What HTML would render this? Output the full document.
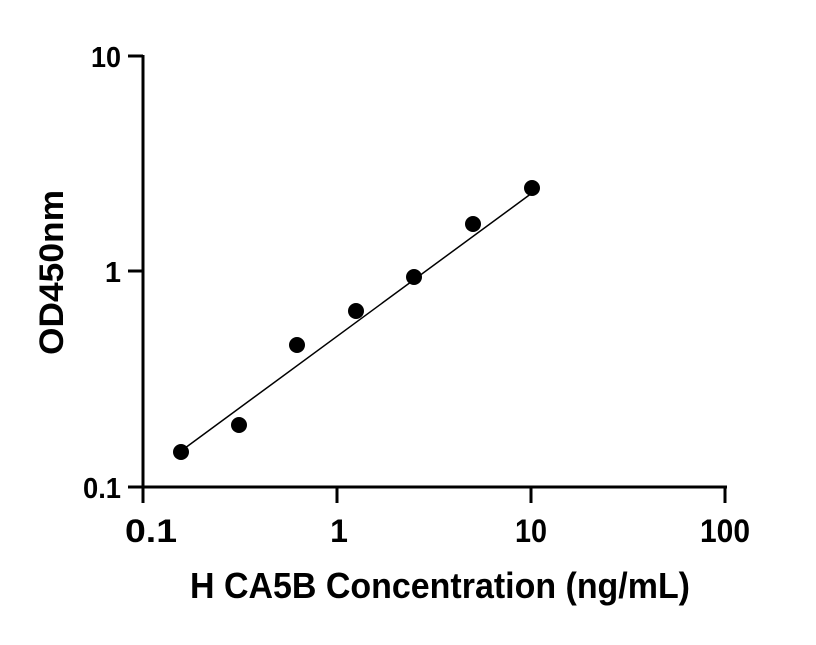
<!DOCTYPE html>
<html><head><meta charset="utf-8"><style>body{margin:0;background:#fff}</style></head><body>
<svg width="816" height="640" xmlns="http://www.w3.org/2000/svg" font-family="Liberation Sans, sans-serif" font-weight="bold">
<g stroke="#000" stroke-width="3" fill="none">
<line x1="143" y1="55" x2="143" y2="488"/>
<line x1="142" y1="487" x2="727" y2="487"/>
<line x1="128" y1="56" x2="143" y2="56"/>
<line x1="128" y1="271" x2="143" y2="271"/>
<line x1="128" y1="487" x2="143" y2="487"/>
<line x1="143" y1="487" x2="143" y2="503"/>
<line x1="337" y1="487" x2="337" y2="503"/>
<line x1="531" y1="487" x2="531" y2="503"/>
<line x1="725" y1="487" x2="725" y2="503"/>
</g>
<g font-size="29" text-anchor="end">
<text x="121" y="67" textLength="30" lengthAdjust="spacingAndGlyphs">10</text>
<text x="121" y="282">1</text>
<text x="121" y="498" textLength="38" lengthAdjust="spacingAndGlyphs">0.1</text>
</g>
<g font-size="32" text-anchor="middle">
<text x="151" y="542" textLength="52" lengthAdjust="spacingAndGlyphs">0.1</text>
<text x="339" y="542">1</text>
<text x="531" y="542" textLength="32" lengthAdjust="spacingAndGlyphs">10</text>
<text x="725" y="542" textLength="50" lengthAdjust="spacingAndGlyphs">100</text>
</g>
<text x="190" y="598" font-size="36" textLength="500" lengthAdjust="spacingAndGlyphs">H CA5B Concentration (ng/mL)</text>
<text transform="translate(63,355) rotate(-90)" font-size="34" textLength="165" lengthAdjust="spacingAndGlyphs">OD450nm</text>
<line x1="181" y1="451" x2="532" y2="193" stroke="#000" stroke-width="1.5"/>
<g fill="#000">
<circle cx="181" cy="452" r="8"/>
<circle cx="239" cy="425" r="8"/>
<circle cx="297" cy="345" r="8"/>
<circle cx="356" cy="311" r="8"/>
<circle cx="414" cy="277" r="8"/>
<circle cx="473" cy="224" r="8"/>
<circle cx="532" cy="188" r="8"/>
</g>
</svg>
</body></html>
